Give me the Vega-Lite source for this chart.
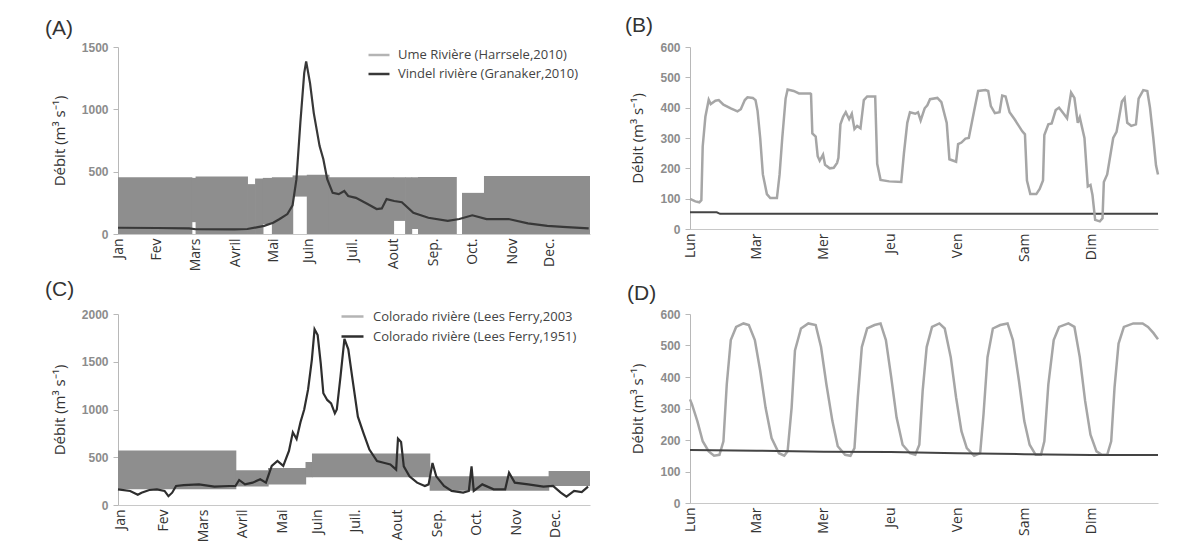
{
  "$schema": "https://vega.github.io/schema/vega-lite/v6.json",
  "background": "white",
  "padding": {"left": 45, "top": 15, "right": 5, "bottom": 4},
  "columns": 2,
  "spacing": {"row": 80, "column": 100},
  "bounds": "flush",
  "resolve": {"scale": {"color": "independent"}, "legend": {"color": "independent"}},
  "config": {
    "view": {"stroke": null},
    "font": "Open Sans",
    "axis": {"grid": false},
    "axisX": {"labelAngle": -90, "ticks": false, "domainColor": "#c8c8c8", "labelFont": "Open Sans", "labelFontSize": 14, "labelColor": "#333333", "labelPadding": 4, "labelFlush": false, "labelOverlap": false},
    "axisY": {"labelFont": "Liberation Sans", "labelFontSize": 12, "labelFontWeight": "bold", "labelColor": "#8c8c8c", "tickColor": "#b8b8b8", "tickSize": 5, "domainColor": "#b8b8b8", "labelPadding": 5, "labelOverlap": false, "labelFlush": false, "format": "d", "titleFont": "Open Sans", "titleFontSize": 15, "titleFontWeight": "normal", "titleColor": "#333333", "titlePadding": 14},
    "title": {"font": "Liberation Sans", "fontSize": 21, "fontWeight": "normal", "color": "#333333", "anchor": "start", "frame": "group", "baseline": "bottom"}
  },
  "datasets": {
    "aBand": [
      {"d0": 0, "d1": 57.5, "lo": 0, "hi": 455},
      {"d0": 57, "d1": 60.5, "lo": 95, "hi": 450},
      {"d0": 60, "d1": 100.5, "lo": 0, "hi": 462},
      {"d0": 100, "d1": 106.5, "lo": 0, "hi": 400},
      {"d0": 106, "d1": 112.5, "lo": 0, "hi": 445},
      {"d0": 112, "d1": 119.5, "lo": 80, "hi": 450},
      {"d0": 119, "d1": 135.5, "lo": 0, "hi": 455},
      {"d0": 135, "d1": 146.5, "lo": 300, "hi": 470},
      {"d0": 146, "d1": 163.5, "lo": 0, "hi": 475},
      {"d0": 163, "d1": 213.5, "lo": 0, "hi": 455},
      {"d0": 213, "d1": 222.5, "lo": 105, "hi": 455},
      {"d0": 222, "d1": 227.5, "lo": 0, "hi": 455},
      {"d0": 227, "d1": 232.5, "lo": 40, "hi": 455},
      {"d0": 232, "d1": 262, "lo": 0, "hi": 458},
      {"d0": 266, "d1": 283.5, "lo": 0, "hi": 330},
      {"d0": 283, "d1": 365, "lo": 0, "hi": 465}
    ],
    "aLine": [
      {"d": 0, "v": 50, "s": "Vindel rivière (Granaker,2010)"},
      {"d": 30, "v": 48, "s": "Vindel rivière (Granaker,2010)"},
      {"d": 55, "v": 45, "s": "Vindel rivière (Granaker,2010)"},
      {"d": 60, "v": 38, "s": "Vindel rivière (Granaker,2010)"},
      {"d": 90, "v": 37, "s": "Vindel rivière (Granaker,2010)"},
      {"d": 100, "v": 40, "s": "Vindel rivière (Granaker,2010)"},
      {"d": 113, "v": 65, "s": "Vindel rivière (Granaker,2010)"},
      {"d": 120, "v": 90, "s": "Vindel rivière (Granaker,2010)"},
      {"d": 125, "v": 120, "s": "Vindel rivière (Granaker,2010)"},
      {"d": 131, "v": 160, "s": "Vindel rivière (Granaker,2010)"},
      {"d": 135, "v": 230, "s": "Vindel rivière (Granaker,2010)"},
      {"d": 138, "v": 440, "s": "Vindel rivière (Granaker,2010)"},
      {"d": 141, "v": 890, "s": "Vindel rivière (Granaker,2010)"},
      {"d": 144, "v": 1290, "s": "Vindel rivière (Granaker,2010)"},
      {"d": 145.5, "v": 1385, "s": "Vindel rivière (Granaker,2010)"},
      {"d": 148.5, "v": 1210, "s": "Vindel rivière (Granaker,2010)"},
      {"d": 151.4, "v": 970, "s": "Vindel rivière (Granaker,2010)"},
      {"d": 155.9, "v": 705, "s": "Vindel rivière (Granaker,2010)"},
      {"d": 158.8, "v": 600, "s": "Vindel rivière (Granaker,2010)"},
      {"d": 161.8, "v": 440, "s": "Vindel rivière (Granaker,2010)"},
      {"d": 166, "v": 330, "s": "Vindel rivière (Granaker,2010)"},
      {"d": 170.7, "v": 320, "s": "Vindel rivière (Granaker,2010)"},
      {"d": 175, "v": 345, "s": "Vindel rivière (Granaker,2010)"},
      {"d": 178, "v": 305, "s": "Vindel rivière (Granaker,2010)"},
      {"d": 184, "v": 290, "s": "Vindel rivière (Granaker,2010)"},
      {"d": 193, "v": 240, "s": "Vindel rivière (Granaker,2010)"},
      {"d": 200, "v": 200, "s": "Vindel rivière (Granaker,2010)"},
      {"d": 204, "v": 205, "s": "Vindel rivière (Granaker,2010)"},
      {"d": 207.7, "v": 280, "s": "Vindel rivière (Granaker,2010)"},
      {"d": 213.6, "v": 265, "s": "Vindel rivière (Granaker,2010)"},
      {"d": 219.5, "v": 255, "s": "Vindel rivière (Granaker,2010)"},
      {"d": 228.4, "v": 170, "s": "Vindel rivière (Granaker,2010)"},
      {"d": 240, "v": 130, "s": "Vindel rivière (Granaker,2010)"},
      {"d": 255, "v": 105, "s": "Vindel rivière (Granaker,2010)"},
      {"d": 264, "v": 120, "s": "Vindel rivière (Granaker,2010)"},
      {"d": 274, "v": 150, "s": "Vindel rivière (Granaker,2010)"},
      {"d": 285, "v": 120, "s": "Vindel rivière (Granaker,2010)"},
      {"d": 302, "v": 120, "s": "Vindel rivière (Granaker,2010)"},
      {"d": 317, "v": 85, "s": "Vindel rivière (Granaker,2010)"},
      {"d": 332, "v": 65, "s": "Vindel rivière (Granaker,2010)"},
      {"d": 347, "v": 55, "s": "Vindel rivière (Granaker,2010)"},
      {"d": 364, "v": 45, "s": "Vindel rivière (Granaker,2010)"}
    ],
    "bUme": [
      {"d": 0, "v": 99}, {"d": 0.08, "v": 91}, {"d": 0.14, "v": 88}, {"d": 0.17, "v": 95},
      {"d": 0.19, "v": 272}, {"d": 0.23, "v": 370}, {"d": 0.28, "v": 426}, {"d": 0.31, "v": 412},
      {"d": 0.38, "v": 423}, {"d": 0.43, "v": 425}, {"d": 0.5, "v": 410}, {"d": 0.61, "v": 398},
      {"d": 0.71, "v": 388}, {"d": 0.76, "v": 395}, {"d": 0.82, "v": 425}, {"d": 0.86, "v": 434},
      {"d": 0.94, "v": 432}, {"d": 0.98, "v": 425}, {"d": 1.01, "v": 390}, {"d": 1.05, "v": 300},
      {"d": 1.09, "v": 180}, {"d": 1.15, "v": 115}, {"d": 1.2, "v": 102}, {"d": 1.3, "v": 102},
      {"d": 1.34, "v": 180}, {"d": 1.38, "v": 300}, {"d": 1.43, "v": 430}, {"d": 1.46, "v": 460},
      {"d": 1.55, "v": 455}, {"d": 1.63, "v": 447}, {"d": 1.8, "v": 447}, {"d": 1.81, "v": 445},
      {"d": 1.83, "v": 315}, {"d": 1.88, "v": 305}, {"d": 1.91, "v": 240}, {"d": 1.94, "v": 225},
      {"d": 1.99, "v": 245}, {"d": 2.02, "v": 212}, {"d": 2.09, "v": 200}, {"d": 2.15, "v": 202},
      {"d": 2.2, "v": 218}, {"d": 2.22, "v": 235}, {"d": 2.25, "v": 345}, {"d": 2.29, "v": 370},
      {"d": 2.33, "v": 385}, {"d": 2.38, "v": 362}, {"d": 2.42, "v": 380}, {"d": 2.46, "v": 330},
      {"d": 2.5, "v": 340}, {"d": 2.55, "v": 332}, {"d": 2.6, "v": 425}, {"d": 2.65, "v": 437},
      {"d": 2.77, "v": 437}, {"d": 2.8, "v": 215}, {"d": 2.85, "v": 162}, {"d": 2.98, "v": 157},
      {"d": 3.16, "v": 155}, {"d": 3.2, "v": 250}, {"d": 3.25, "v": 350}, {"d": 3.29, "v": 385},
      {"d": 3.37, "v": 380}, {"d": 3.41, "v": 385}, {"d": 3.45, "v": 358}, {"d": 3.51, "v": 398},
      {"d": 3.55, "v": 408}, {"d": 3.59, "v": 428}, {"d": 3.7, "v": 432}, {"d": 3.76, "v": 418},
      {"d": 3.84, "v": 350}, {"d": 3.88, "v": 230}, {"d": 3.98, "v": 222}, {"d": 4.01, "v": 280},
      {"d": 4.06, "v": 285}, {"d": 4.12, "v": 298}, {"d": 4.17, "v": 300}, {"d": 4.25, "v": 390},
      {"d": 4.31, "v": 455}, {"d": 4.42, "v": 458}, {"d": 4.46, "v": 455}, {"d": 4.5, "v": 405},
      {"d": 4.56, "v": 382}, {"d": 4.63, "v": 385}, {"d": 4.67, "v": 440}, {"d": 4.72, "v": 437},
      {"d": 4.78, "v": 385}, {"d": 4.86, "v": 360}, {"d": 4.97, "v": 322}, {"d": 5.01, "v": 312},
      {"d": 5.04, "v": 160}, {"d": 5.09, "v": 115}, {"d": 5.18, "v": 115}, {"d": 5.23, "v": 132},
      {"d": 5.28, "v": 160}, {"d": 5.3, "v": 310}, {"d": 5.36, "v": 345}, {"d": 5.41, "v": 348},
      {"d": 5.47, "v": 392}, {"d": 5.52, "v": 400}, {"d": 5.59, "v": 380}, {"d": 5.64, "v": 365},
      {"d": 5.7, "v": 450}, {"d": 5.75, "v": 432}, {"d": 5.8, "v": 350}, {"d": 5.83, "v": 368},
      {"d": 5.9, "v": 300}, {"d": 5.95, "v": 140}, {"d": 5.99, "v": 145}, {"d": 6.02, "v": 112},
      {"d": 6.06, "v": 30}, {"d": 6.13, "v": 25}, {"d": 6.17, "v": 35}, {"d": 6.19, "v": 155},
      {"d": 6.24, "v": 180}, {"d": 6.33, "v": 300}, {"d": 6.38, "v": 320}, {"d": 6.46, "v": 420},
      {"d": 6.5, "v": 432}, {"d": 6.54, "v": 350}, {"d": 6.6, "v": 340}, {"d": 6.67, "v": 345},
      {"d": 6.71, "v": 430}, {"d": 6.78, "v": 458}, {"d": 6.84, "v": 455}, {"d": 6.88, "v": 400},
      {"d": 6.93, "v": 300}, {"d": 6.97, "v": 210}, {"d": 7, "v": 180}
    ],
    "bVin": [
      {"d": 0, "v": 55}, {"d": 0.4, "v": 55}, {"d": 0.45, "v": 50}, {"d": 7, "v": 50}
    ],
    "cBand": [
      {"d0": 0, "d1": 91.5, "lo": 165, "hi": 570},
      {"d0": 91, "d1": 116.5, "lo": 195, "hi": 365},
      {"d0": 116, "d1": 145.5, "lo": 215, "hi": 388},
      {"d0": 145, "d1": 150.5, "lo": 290, "hi": 450},
      {"d0": 150, "d1": 241.5, "lo": 290, "hi": 540},
      {"d0": 241, "d1": 333.5, "lo": 150, "hi": 300},
      {"d0": 333, "d1": 365, "lo": 200, "hi": 356}
    ],
    "cLine": [
      {"d": 0, "v": 164, "s": "Colorado rivière (Lees Ferry,1951)"},
      {"d": 9.4, "v": 147, "s": "Colorado rivière (Lees Ferry,1951)"},
      {"d": 15.3, "v": 108, "s": "Colorado rivière (Lees Ferry,1951)"},
      {"d": 18.2, "v": 129, "s": "Colorado rivière (Lees Ferry,1951)"},
      {"d": 24.2, "v": 157, "s": "Colorado rivière (Lees Ferry,1951)"},
      {"d": 30.1, "v": 164, "s": "Colorado rivière (Lees Ferry,1951)"},
      {"d": 36, "v": 147, "s": "Colorado rivière (Lees Ferry,1951)"},
      {"d": 39, "v": 92, "s": "Colorado rivière (Lees Ferry,1951)"},
      {"d": 41.9, "v": 129, "s": "Colorado rivière (Lees Ferry,1951)"},
      {"d": 44.9, "v": 199, "s": "Colorado rivière (Lees Ferry,1951)"},
      {"d": 50.8, "v": 209, "s": "Colorado rivière (Lees Ferry,1951)"},
      {"d": 62.6, "v": 216, "s": "Colorado rivière (Lees Ferry,1951)"},
      {"d": 74.5, "v": 192, "s": "Colorado rivière (Lees Ferry,1951)"},
      {"d": 86.3, "v": 199, "s": "Colorado rivière (Lees Ferry,1951)"},
      {"d": 90.8, "v": 199, "s": "Colorado rivière (Lees Ferry,1951)"},
      {"d": 93.7, "v": 262, "s": "Colorado rivière (Lees Ferry,1951)"},
      {"d": 98.2, "v": 216, "s": "Colorado rivière (Lees Ferry,1951)"},
      {"d": 104.1, "v": 234, "s": "Colorado rivière (Lees Ferry,1951)"},
      {"d": 110, "v": 269, "s": "Colorado rivière (Lees Ferry,1951)"},
      {"d": 114.4, "v": 234, "s": "Colorado rivière (Lees Ferry,1951)"},
      {"d": 118.9, "v": 409, "s": "Colorado rivière (Lees Ferry,1951)"},
      {"d": 123.3, "v": 462, "s": "Colorado rivière (Lees Ferry,1951)"},
      {"d": 127.8, "v": 409, "s": "Colorado rivière (Lees Ferry,1951)"},
      {"d": 132.2, "v": 566, "s": "Colorado rivière (Lees Ferry,1951)"},
      {"d": 135.2, "v": 761, "s": "Colorado rivière (Lees Ferry,1951)"},
      {"d": 138.1, "v": 691, "s": "Colorado rivière (Lees Ferry,1951)"},
      {"d": 141.1, "v": 866, "s": "Colorado rivière (Lees Ferry,1951)"},
      {"d": 144, "v": 1000, "s": "Colorado rivière (Lees Ferry,1951)"},
      {"d": 147, "v": 1210, "s": "Colorado rivière (Lees Ferry,1951)"},
      {"d": 149.9, "v": 1520, "s": "Colorado rivière (Lees Ferry,1951)"},
      {"d": 152, "v": 1840, "s": "Colorado rivière (Lees Ferry,1951)"},
      {"d": 154.4, "v": 1780, "s": "Colorado rivière (Lees Ferry,1951)"},
      {"d": 156.8, "v": 1480, "s": "Colorado rivière (Lees Ferry,1951)"},
      {"d": 158.8, "v": 1170, "s": "Colorado rivière (Lees Ferry,1951)"},
      {"d": 161.8, "v": 1100, "s": "Colorado rivière (Lees Ferry,1951)"},
      {"d": 164.8, "v": 1065, "s": "Colorado rivière (Lees Ferry,1951)"},
      {"d": 167.7, "v": 960, "s": "Colorado rivière (Lees Ferry,1951)"},
      {"d": 169.2, "v": 1000, "s": "Colorado rivière (Lees Ferry,1951)"},
      {"d": 172.1, "v": 1350, "s": "Colorado rivière (Lees Ferry,1951)"},
      {"d": 175.1, "v": 1740, "s": "Colorado rivière (Lees Ferry,1951)"},
      {"d": 178.1, "v": 1630, "s": "Colorado rivière (Lees Ferry,1951)"},
      {"d": 181, "v": 1350, "s": "Colorado rivière (Lees Ferry,1951)"},
      {"d": 185.5, "v": 925, "s": "Colorado rivière (Lees Ferry,1951)"},
      {"d": 189.9, "v": 750, "s": "Colorado rivière (Lees Ferry,1951)"},
      {"d": 194.4, "v": 580, "s": "Colorado rivière (Lees Ferry,1951)"},
      {"d": 200.3, "v": 460, "s": "Colorado rivière (Lees Ferry,1951)"},
      {"d": 206.2, "v": 440, "s": "Colorado rivière (Lees Ferry,1951)"},
      {"d": 210.6, "v": 425, "s": "Colorado rivière (Lees Ferry,1951)"},
      {"d": 215.1, "v": 370, "s": "Colorado rivière (Lees Ferry,1951)"},
      {"d": 216.5, "v": 695, "s": "Colorado rivière (Lees Ferry,1951)"},
      {"d": 218.9, "v": 660, "s": "Colorado rivière (Lees Ferry,1951)"},
      {"d": 221, "v": 405, "s": "Colorado rivière (Lees Ferry,1951)"},
      {"d": 225.4, "v": 300, "s": "Colorado rivière (Lees Ferry,1951)"},
      {"d": 231.3, "v": 234, "s": "Colorado rivière (Lees Ferry,1951)"},
      {"d": 237.3, "v": 199, "s": "Colorado rivière (Lees Ferry,1951)"},
      {"d": 240.2, "v": 216, "s": "Colorado rivière (Lees Ferry,1951)"},
      {"d": 243.2, "v": 440, "s": "Colorado rivière (Lees Ferry,1951)"},
      {"d": 246.1, "v": 300, "s": "Colorado rivière (Lees Ferry,1951)"},
      {"d": 252.1, "v": 199, "s": "Colorado rivière (Lees Ferry,1951)"},
      {"d": 258, "v": 147, "s": "Colorado rivière (Lees Ferry,1951)"},
      {"d": 266.9, "v": 130, "s": "Colorado rivière (Lees Ferry,1951)"},
      {"d": 271.3, "v": 147, "s": "Colorado rivière (Lees Ferry,1951)"},
      {"d": 273.4, "v": 405, "s": "Colorado rivière (Lees Ferry,1951)"},
      {"d": 275.1, "v": 147, "s": "Colorado rivière (Lees Ferry,1951)"},
      {"d": 281.7, "v": 216, "s": "Colorado rivière (Lees Ferry,1951)"},
      {"d": 290.5, "v": 164, "s": "Colorado rivière (Lees Ferry,1951)"},
      {"d": 299.4, "v": 164, "s": "Colorado rivière (Lees Ferry,1951)"},
      {"d": 302.4, "v": 338, "s": "Colorado rivière (Lees Ferry,1951)"},
      {"d": 306.8, "v": 234, "s": "Colorado rivière (Lees Ferry,1951)"},
      {"d": 317.2, "v": 216, "s": "Colorado rivière (Lees Ferry,1951)"},
      {"d": 329, "v": 192, "s": "Colorado rivière (Lees Ferry,1951)"},
      {"d": 336.4, "v": 199, "s": "Colorado rivière (Lees Ferry,1951)"},
      {"d": 342.4, "v": 129, "s": "Colorado rivière (Lees Ferry,1951)"},
      {"d": 346.8, "v": 87, "s": "Colorado rivière (Lees Ferry,1951)"},
      {"d": 352.7, "v": 147, "s": "Colorado rivière (Lees Ferry,1951)"},
      {"d": 358.6, "v": 136, "s": "Colorado rivière (Lees Ferry,1951)"},
      {"d": 363.5, "v": 192, "s": "Colorado rivière (Lees Ferry,1951)"}
    ],
    "d03": [
      {"d": 0, "v": 329}, {"d": 0.03, "v": 313}, {"d": 0.11, "v": 260}, {"d": 0.19, "v": 196},
      {"d": 0.28, "v": 164}, {"d": 0.36, "v": 150}, {"d": 0.44, "v": 153}, {"d": 0.5, "v": 196},
      {"d": 0.55, "v": 377}, {"d": 0.61, "v": 517}, {"d": 0.69, "v": 559}, {"d": 0.8, "v": 570},
      {"d": 0.88, "v": 565}, {"d": 0.97, "v": 517}, {"d": 1.05, "v": 420}, {"d": 1.13, "v": 303},
      {"d": 1.22, "v": 206}, {"d": 1.33, "v": 158}, {"d": 1.41, "v": 150}, {"d": 1.46, "v": 164},
      {"d": 1.52, "v": 303}, {"d": 1.57, "v": 484}, {"d": 1.66, "v": 554}, {"d": 1.77, "v": 570},
      {"d": 1.88, "v": 565}, {"d": 1.96, "v": 495}, {"d": 2.04, "v": 377}, {"d": 2.13, "v": 260},
      {"d": 2.21, "v": 180}, {"d": 2.32, "v": 153}, {"d": 2.4, "v": 150}, {"d": 2.46, "v": 174},
      {"d": 2.51, "v": 335}, {"d": 2.57, "v": 495}, {"d": 2.65, "v": 554}, {"d": 2.76, "v": 565},
      {"d": 2.85, "v": 570}, {"d": 2.93, "v": 517}, {"d": 3.01, "v": 399}, {"d": 3.09, "v": 271},
      {"d": 3.18, "v": 185}, {"d": 3.29, "v": 158}, {"d": 3.37, "v": 153}, {"d": 3.43, "v": 185},
      {"d": 3.48, "v": 356}, {"d": 3.54, "v": 495}, {"d": 3.62, "v": 559}, {"d": 3.73, "v": 570},
      {"d": 3.81, "v": 554}, {"d": 3.9, "v": 463}, {"d": 3.98, "v": 335}, {"d": 4.06, "v": 228},
      {"d": 4.14, "v": 174}, {"d": 4.25, "v": 150}, {"d": 4.34, "v": 158}, {"d": 4.39, "v": 281},
      {"d": 4.45, "v": 463}, {"d": 4.53, "v": 554}, {"d": 4.64, "v": 565}, {"d": 4.75, "v": 570},
      {"d": 4.83, "v": 517}, {"d": 4.92, "v": 388}, {"d": 5.0, "v": 260}, {"d": 5.08, "v": 185},
      {"d": 5.17, "v": 153}, {"d": 5.25, "v": 153}, {"d": 5.3, "v": 196}, {"d": 5.36, "v": 377},
      {"d": 5.44, "v": 517}, {"d": 5.52, "v": 559}, {"d": 5.66, "v": 570}, {"d": 5.75, "v": 559},
      {"d": 5.83, "v": 463}, {"d": 5.91, "v": 324}, {"d": 5.99, "v": 217}, {"d": 6.08, "v": 164},
      {"d": 6.16, "v": 153}, {"d": 6.24, "v": 153}, {"d": 6.3, "v": 196}, {"d": 6.35, "v": 367},
      {"d": 6.41, "v": 506}, {"d": 6.49, "v": 559}, {"d": 6.63, "v": 570}, {"d": 6.77, "v": 570},
      {"d": 6.85, "v": 559}, {"d": 6.93, "v": 540}, {"d": 7, "v": 520}
    ],
    "d51": [
      {"d": 0, "v": 168}, {"d": 1, "v": 166}, {"d": 2, "v": 163}, {"d": 3, "v": 162},
      {"d": 4, "v": 158}, {"d": 5, "v": 155}, {"d": 6, "v": 152}, {"d": 7, "v": 152}
    ]
  },
  "concat": [
    {
      "width": 472,
      "height": 187,
      "title": {"text": "(A)", "dx": -73, "offset": 2},
      "layer": [
        {
          "data": {"name": "aBand"},
          "mark": {"type": "rect", "color": "#8e8e8e"},
          "encoding": {
            "x": {"field": "d0", "type": "quantitative", "scale": {"domain": [0, 365], "nice": false, "zero": false},
                  "axis": {"title": null, "values": [0, 30, 60, 91, 120, 147, 181, 213, 244, 274, 305, 334],
                           "labelExpr": "['Jan','Fev','Mars','Avril','Mai','Juin','Juil.','Aout','Sep.','Oct.','Nov','Dec.'][indexof([0,30,60,91,120,147,181,213,244,274,305,334], datum.value)]"}},
            "x2": {"field": "d1"},
            "y": {"field": "lo", "type": "quantitative", "scale": {"domain": [0, 1500], "nice": false},
                  "axis": {"title": "Débit (m³ s⁻¹)", "values": [0, 500, 1000, 1500], "labelOverlap": false}},
            "y2": {"field": "hi"}
          }
        },
        {
          "data": {"name": "aLine"},
          "mark": {"type": "line", "strokeWidth": 2.2},
          "encoding": {
            "x": {"field": "d", "type": "quantitative"},
            "y": {"field": "v", "type": "quantitative",
                  "axis": {"title": "Débit (m³ s⁻¹)", "values": [0, 500, 1000, 1500], "labelOverlap": false}},
            "color": {"field": "s", "type": "nominal",
                      "scale": {"domain": ["Ume Rivière (Harrsele,2010)", "Vindel rivière (Granaker,2010)"], "range": ["#b4b4b4", "#383838"]},
                      "legend": {"orient": "none", "legendX": 249, "legendY": -4, "title": null, "symbolType": "stroke", "symbolSize": 441, "symbolStrokeWidth": 2.5, "labelFont": "Open Sans", "labelFontSize": 13, "labelColor": "#444444", "rowPadding": -1, "labelOffset": 7, "labelLimit": 400}}
          }
        }
      ]
    },
    {
      "width": 468,
      "height": 182,
      "title": {"text": "(B)", "dx": -65, "offset": 5},
      "layer": [
        {
          "data": {"name": "bVin"},
          "mark": {"type": "line", "color": "#444444", "strokeWidth": 2},
          "encoding": {
            "x": {"field": "d", "type": "quantitative", "scale": {"domain": [0, 7], "nice": false, "zero": false},
                  "axis": {"title": null, "values": [0, 1, 2, 3, 4, 5, 6],
                           "labelExpr": "['Lun','Mar','Mer','Jeu','Ven','Sam','Dim'][datum.value]"}},
            "y": {"field": "v", "type": "quantitative", "scale": {"domain": [0, 600], "nice": false},
                  "axis": {"title": "Débit (m³ s⁻¹)", "values": [0, 100, 200, 300, 400, 500, 600], "tickCount": 7, "labelOverlap": false}}
          }
        },
        {
          "data": {"name": "bUme"},
          "mark": {"type": "line", "color": "#a6a6a6", "strokeWidth": 2.5},
          "encoding": {
            "x": {"field": "d", "type": "quantitative",
                  "axis": {"title": null, "values": [0, 1, 2, 3, 4, 5, 6],
                           "labelExpr": "['Lun','Mar','Mer','Jeu','Ven','Sam','Dim'][datum.value]"}},
            "y": {"field": "v", "type": "quantitative",
                  "axis": {"title": "Débit (m³ s⁻¹)", "values": [0, 100, 200, 300, 400, 500, 600], "tickCount": 7, "labelOverlap": false}}
          }
        }
      ]
    },
    {
      "width": 472,
      "height": 191,
      "title": {"text": "(C)", "dx": -73, "offset": 4},
      "layer": [
        {
          "data": {"name": "cBand"},
          "mark": {"type": "rect", "color": "#8e8e8e"},
          "encoding": {
            "x": {"field": "d0", "type": "quantitative", "scale": {"domain": [0, 365], "nice": false, "zero": false},
                  "axis": {"title": null, "values": [2, 35, 66, 96, 127, 154, 184, 216, 247, 277, 308, 338],
                           "labelExpr": "['Jan','Fev','Mars','Avril','Mai','Juin','Juil.','Aout','Sep.','Oct.','Nov','Dec.'][indexof([2,35,66,96,127,154,184,216,247,277,308,338], datum.value)]"}},
            "x2": {"field": "d1"},
            "y": {"field": "lo", "type": "quantitative", "scale": {"domain": [0, 2000], "nice": false},
                  "axis": {"title": "Débit (m³ s⁻¹)", "values": [0, 500, 1000, 1500, 2000], "labelOverlap": false}},
            "y2": {"field": "hi"}
          }
        },
        {
          "data": {"name": "cLine"},
          "mark": {"type": "line", "strokeWidth": 2.2},
          "encoding": {
            "x": {"field": "d", "type": "quantitative"},
            "y": {"field": "v", "type": "quantitative",
                  "axis": {"title": "Débit (m³ s⁻¹)", "values": [0, 500, 1000, 1500, 2000], "labelOverlap": false}},
            "color": {"field": "s", "type": "nominal",
                      "scale": {"domain": ["Colorado rivière (Lees Ferry,2003", "Colorado rivière (Lees Ferry,1951)"], "range": ["#b4b4b4", "#2e2e2e"]},
                      "legend": {"orient": "none", "legendX": 222, "legendY": -10, "title": null, "symbolType": "stroke", "symbolSize": 484, "symbolStrokeWidth": 2.5, "labelFont": "Open Sans", "labelFontSize": 13, "labelColor": "#444444", "rowPadding": 0, "labelOffset": 8, "labelLimit": 400}}
          }
        }
      ]
    },
    {
      "width": 468,
      "height": 189,
      "title": {"text": "(D)", "dx": -63, "offset": 4},
      "layer": [
        {
          "data": {"name": "d03"},
          "mark": {"type": "line", "color": "#a6a6a6", "strokeWidth": 2.5},
          "encoding": {
            "x": {"field": "d", "type": "quantitative", "scale": {"domain": [0, 7], "nice": false, "zero": false},
                  "axis": {"title": null, "values": [0, 1, 2, 3, 4, 5, 6],
                           "labelExpr": "['Lun','Mar','Mer','Jeu','Ven','Sam','Dim'][datum.value]"}},
            "y": {"field": "v", "type": "quantitative", "scale": {"domain": [0, 600], "nice": false},
                  "axis": {"title": "Débit (m³ s⁻¹)", "values": [0, 100, 200, 300, 400, 500, 600], "tickCount": 7, "labelOverlap": false}}
          }
        },
        {
          "data": {"name": "d51"},
          "mark": {"type": "line", "color": "#444444", "strokeWidth": 2},
          "encoding": {
            "x": {"field": "d", "type": "quantitative",
                  "axis": {"title": null, "values": [0, 1, 2, 3, 4, 5, 6],
                           "labelExpr": "['Lun','Mar','Mer','Jeu','Ven','Sam','Dim'][datum.value]"}},
            "y": {"field": "v", "type": "quantitative",
                  "axis": {"title": "Débit (m³ s⁻¹)", "values": [0, 100, 200, 300, 400, 500, 600], "tickCount": 7, "labelOverlap": false}}
          }
        }
      ]
    }
  ]
}
